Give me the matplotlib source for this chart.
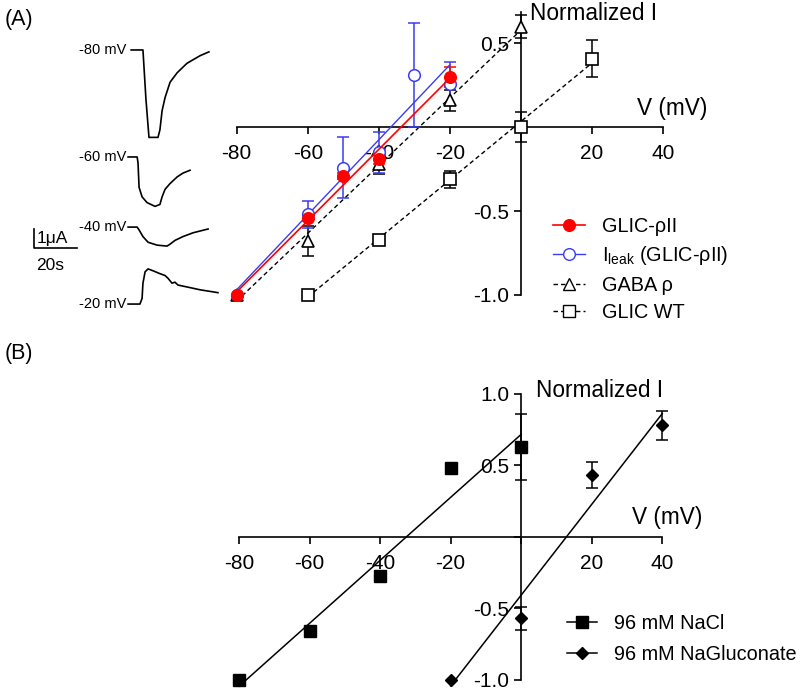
import numpy as np
import matplotlib
matplotlib.use('Agg')
import matplotlib.pyplot as plt
from matplotlib.lines import Line2D

plt.rcParams['font.family'] = ['Liberation Sans', 'DejaVu Sans']

# ---- panel A data (normalized current vs voltage, mV) ----
v_rho2 = [-80, -60, -50, -40, -20]
i_rho2 = [-1.0, -0.54, -0.29, -0.19, 0.30]
e_rho2 = [0.0, 0.02, 0.02, 0.03, 0.06]

v_leak = [-80, -60, -50, -40, -30, -20]
i_leak = [-1.0, -0.52, -0.24, -0.15, 0.31, 0.26]
e_leak = [0.0, 0.08, 0.18, 0.12, 0.31, 0.13]

v_gaba = [-80, -60, -40, -20, 0]
i_gaba = [-1.0, -0.68, -0.22, 0.16, 0.60]
e_gaba = [0.0, 0.09, 0.06, 0.06, 0.07]

v_wt = [-60, -40, -20, 0, 20]
i_wt = [-1.0, -0.67, -0.31, 0.0, 0.41]
e_wt = [0.0, 0.02, 0.05, 0.09, 0.11]

# ---- panel B data ----
v_nacl = [-80, -60, -40, -20, 0]
i_nacl = [-1.0, -0.66, -0.27, 0.48, 0.63]
e_nacl = [0.0, 0.0, 0.0, 0.03, 0.23]

v_gluc = [-20, 0, 20, 40]
i_gluc = [-1.0, -0.57, 0.43, 0.78]
e_gluc = [0.0, 0.08, 0.09, 0.10]

xticks = [-80, -60, -40, -20, 0, 20, 40]

# ---- example current traces (time in s, current in uA) ----
trace_labels = ['-80 mV', '-60 mV', '-40 mV', '-20 mV']
trace_t = [
    [1.9, 7.4, 8.8, 10.2, 14.4, 15.3, 16.3, 17.7, 20.0, 23.3, 27.9, 34.0, 38.1],
    [0.5, 4.7, 5.1, 5.6, 7.0, 9.3, 13.0, 15.3, 16.3, 17.7, 20.0, 23.3, 26.0, 29.3],
    [0.5, 4.7, 5.6, 7.4, 9.8, 14.0, 18.6, 20.0, 22.3, 26.0, 30.7, 37.7],
    [0.5, 6.0, 7.0, 7.4, 8.4, 9.8, 12.1, 15.3, 17.7, 19.1, 20.9, 22.3, 23.7, 27.9, 34.0, 42.3],
]
trace_i = [
    [0, 0, -2.6, -4.6, -4.6, -4.2, -3.2, -2.5, -1.7, -1.2, -0.7, -0.3, -0.1],
    [0, 0, -0.3, -1.6, -2.1, -2.4, -2.6, -2.5, -2.1, -1.7, -1.4, -1.05, -0.85, -0.7],
    [0, 0, -0.15, -0.5, -0.8, -0.95, -1.0, -0.9, -0.7, -0.5, -0.3, -0.1],
    [0, 0, 0.3, 1.1, 1.7, 1.85, 1.75, 1.6, 1.5, 1.35, 1.1, 1.15, 1.0, 0.9, 0.75, 0.6],
]
trace_offset = [-2.63, -8.26, -11.95, -16.0]

RED = '#ff0000'
BLUE = '#3c3cf0'
FS = 15
LEG_FS = 14.3
dash = (0, (3.2, 2.2))

fig = plt.figure(figsize=(8, 6.9), dpi=100)


def style_axes(ax, ylo, yhi, yticks):
    ax.set_xlim(-80, 40)
    ax.set_ylim(ylo, yhi)
    for s in ['top', 'right']:
        ax.spines[s].set_visible(False)
    ax.spines['left'].set_position(('data', 0))
    ax.spines['bottom'].set_position(('data', 0))
    for s in ['left', 'bottom']:
        ax.spines[s].set_linewidth(1.2)
    ax.set_xticks(xticks)
    ax.set_xticklabels(['' if t == 0 else str(t) for t in xticks])
    ax.set_yticks(yticks)
    ax.set_yticklabels(['' if t == 0 else '%.1f' % t for t in yticks])
    ax.tick_params(direction='out', length=5, width=1.2, labelsize=FS)
    ax.tick_params(axis='x', pad=7)
    ax.tick_params(axis='y', pad=3.5)
    ax.patch.set_visible(False)


def fit_line(ax, v, i, **kw):
    slope, icpt = np.polyfit(v, i, 1)
    xs = np.array([min(v), max(v)])
    ax.plot(xs, slope * xs + icpt, clip_on=False, **kw)


def err(ax, v, i, e, color):
    v, i, e = np.array(v), np.array(i), np.array(e)
    m = e > 0
    ax.errorbar(v[m], i[m], yerr=e[m], fmt='none', ecolor=color, elinewidth=1.1,
                capsize=4.2, capthick=1.1, clip_on=False, zorder=3)


# ---------------- panel A ----------------
axA = fig.add_axes([0.2959, 0.5725, 0.533, 0.4107])
style_axes(axA, -1.0, 0.69, [-1.0, -0.5, 0, 0.5])

fit_line(axA, v_wt, i_wt, color='black', lw=1.0, ls=dash, zorder=2)
fit_line(axA, v_gaba, i_gaba, color='black', lw=1.0, ls=dash, zorder=2)
err(axA, v_wt, i_wt, e_wt, 'black')
err(axA, v_gaba, i_gaba, e_gaba, 'black')
axA.plot(v_wt, i_wt, 's', ms=8.4, mfc='white', mec='black', mew=1.2, clip_on=False, zorder=4)
axA.plot(v_gaba, i_gaba, '^', ms=8.4, mfc='white', mec='black', mew=1.2, clip_on=False, zorder=4)

fit_line(axA, v_leak, i_leak, color=BLUE, lw=1.0, zorder=5)
err(axA, v_leak, i_leak, e_leak, BLUE)
axA.plot(v_leak, i_leak, 'o', ms=8.4, mfc='white', mec=BLUE, mew=1.1, clip_on=False, zorder=6)

fit_line(axA, v_rho2, i_rho2, color=RED, lw=1.2, zorder=7)
err(axA, v_rho2, i_rho2, e_rho2, RED)
axA.plot(v_rho2, i_rho2, 'o', ms=8.4, mfc=RED, mec=RED, clip_on=False, zorder=8)

axA.text(2.5, 0.68, 'Normalized I', fontsize=16.3, ha='left', va='center')
axA.text(32.6, 0.11, 'V (mV)', fontsize=16.3, ha='left', va='center')

handles_a = [
    Line2D([], [], color=RED, lw=1.2, marker='o', ms=8.4, mfc=RED, mec=RED),
    Line2D([], [], color=BLUE, lw=1.0, marker='o', ms=8.4, mfc='white', mec=BLUE),
    Line2D([], [], color='black', lw=1.0, ls=dash, marker='^', ms=8.4, mfc='white', mec='black'),
    Line2D([], [], color='black', lw=1.0, ls=dash, marker='s', ms=8.4, mfc='white', mec='black'),
]
labels_a = ['GLIC-ρII', 'I$_{\\mathregular{leak}}$ (GLIC-ρII)', 'GABA ρ', 'GLIC WT']
fig.legend(handles_a, labels_a, loc='upper left', bbox_to_anchor=(553 / 800, 1 - 217 / 690),
           frameon=False, fontsize=LEG_FS, handlelength=1.6, handletextpad=0.85,
           labelspacing=0.42, borderpad=0, borderaxespad=0)

# ---------------- panel B ----------------
axB = fig.add_axes([0.2988, 0.0145, 0.529, 0.4149])
style_axes(axB, -1.0, 1.0, [-1.0, -0.5, 0, 0.5, 1.0])

fit_line(axB, v_nacl, i_nacl, color='black', lw=1.1)
fit_line(axB, v_gluc, i_gluc, color='black', lw=1.1)
err(axB, v_nacl, i_nacl, e_nacl, 'black')
err(axB, v_gluc, i_gluc, e_gluc, 'black')
axB.plot(v_nacl, i_nacl, 's', ms=8.4, color='black', clip_on=False, zorder=4)
axB.plot(v_gluc, i_gluc, 'D', ms=5.8, color='black', clip_on=False, zorder=4)

axB.text(4.3, 1.02, 'Normalized I', fontsize=16.3, ha='left', va='center')
axB.text(31.5, 0.133, 'V (mV)', fontsize=16.3, ha='left', va='center')

handles_b = [
    Line2D([], [], color='black', lw=1.1, marker='s', ms=8.4),
    Line2D([], [], color='black', lw=1.1, marker='D', ms=5.8),
]
fig.legend(handles_b, ['96 mM NaCl', '96 mM NaGluconate'], loc='upper left',
           bbox_to_anchor=(567 / 800, 1 - 614 / 690), frameon=False, fontsize=LEG_FS,
           handlelength=1.5, handletextpad=0.85, labelspacing=0.62,
           borderpad=0, borderaxespad=0)

# ---------------- current traces ----------------
axT = fig.add_axes([0.025, 0.5362, 0.2625, 0.4203])
axT.set_xlim(-49.8, 47.9)
axT.set_ylim(-16.84, -1.58)
axT.axis('off')
for lab, t, cur, off in zip(trace_labels, trace_t, trace_i, trace_offset):
    axT.plot(t, np.array(cur) + off, color='black', lw=1.2)
    axT.text(-0.3, off, lab, fontsize=10.5, ha='right', va='center')

# scale bar: 1 uA, 20 s
axT.plot([-43.1, -43.1, -23.1], [-12.05, -13.05, -13.05], color='black', lw=1.2)
axT.text(-42.2, -12.55, '1μA', fontsize=12.5, ha='left', va='center')
axT.text(-42.2, -13.95, '20s', fontsize=12.5, ha='left', va='center')

fig.text(5 / 800, 1 - 19 / 690, '(A)', fontsize=15.5, ha='left', va='center')
fig.text(5 / 800, 1 - 353 / 690, '(B)', fontsize=15.5, ha='left', va='center')

fig.savefig('out.png', dpi=100)
